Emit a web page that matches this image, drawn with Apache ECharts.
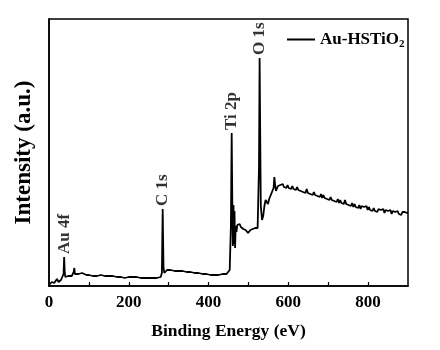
<!DOCTYPE html>
<html>
<head>
<meta charset="utf-8">
<script src="https://cdn.jsdelivr.net/npm/echarts@6/dist/echarts.min.js"></script>
<style>
  html, body { margin: 0; padding: 0; background: #fff; }
  #chart { width: 440px; height: 350px; }
</style>
</head>
<body>
<div id="chart"></div>
<script>
// XPS survey spectrum of Au-HSTiO2
const seriesName = 'Au-HSTiO2';

// Binding energy (eV)
const bindingEnergy = [
  0, 3, 7, 10, 13, 16, 20, 22, 24, 27, 30, 33, 35, 36.5, 38, 39.5, 41, 44, 48, 53,
  57, 60, 62, 63.5, 65, 67, 70, 74, 78, 83, 88, 94, 100, 105, 110, 115, 120, 125,
  130, 135, 140, 145, 150, 155, 160, 165, 170, 175, 180, 185, 190, 195, 200, 205,
  210, 215, 220, 225, 230, 235, 240, 245, 250, 255, 260, 265, 270, 275, 280, 283,
  285, 287, 289, 292, 296, 300, 305, 310, 315, 320, 325, 330, 335, 340, 345, 350,
  355, 360, 365, 370, 375, 380, 385, 390, 395, 400, 405, 410, 415, 420, 425, 430,
  435, 440, 445, 450, 453, 456, 458, 459.5, 461, 462.5, 464, 465, 466.5, 468, 470,
  472, 475, 478, 481, 484, 487, 490, 493, 496, 499, 502, 505, 508, 511, 514, 517,
  520, 523, 525, 526.5, 528, 529.5, 531, 534, 537, 540, 543, 546, 549, 552, 556,
  560, 563, 565, 567, 569, 571, 574, 577, 580, 583, 586, 589, 592, 595, 598, 601,
  604, 607, 610, 613, 616, 619, 622, 625, 628, 631, 634, 637, 640, 643, 646, 649,
  652, 655, 658, 661, 664, 667, 670, 673, 676, 679, 682, 685, 688, 691, 694, 697,
  700, 703, 706, 709, 712, 715, 718, 721, 724, 727, 730, 733, 736, 739, 742, 745,
  748, 751, 754, 757, 760, 763, 766, 769, 772, 775, 778, 781, 784, 787, 790, 793,
  796, 799, 802, 805, 808, 811, 814, 817, 820, 823, 826, 829, 832, 835, 838, 841,
  844, 847, 850, 853, 856, 859, 862, 865, 868, 871, 874, 877, 880, 883, 886, 889,
  892, 895, 898, 900
];

// Intensity (a.u.)
const intensity = [
  1, 3, 4, 2, 3, 5, 7, 5, 4, 5, 6, 6, 8, 12, 29, 13, 9, 9, 10, 9,
  10, 12, 14, 18, 12, 11, 11, 12, 13, 13, 12, 11, 11, 11, 10, 11, 10, 10,
  11, 10, 10, 9, 10, 9, 10, 9, 9, 10, 9, 9, 8, 9, 9, 8,
  9, 8, 9, 8, 8, 9, 8, 8, 8, 9, 8, 8, 8, 9, 9, 13,
  77, 19, 13, 14, 16, 17, 16, 16, 15, 16, 15, 14, 15, 14, 14, 13,
  14, 13, 13, 12, 13, 12, 12, 13, 12, 12, 11, 12, 11, 13, 11, 11,
  12, 11, 12, 13, 16, 60, 153, 85, 40, 81, 42, 75, 38, 60, 54,
  61, 60, 62, 59, 58, 57, 58, 56, 55, 53, 55, 56, 55, 57, 56, 58,
  57, 58, 60, 120, 228, 150, 80, 66, 70, 80, 86, 84, 82, 87, 89,
  95, 98, 109, 101, 95, 93, 100, 99, 101, 99, 102, 99, 100, 98, 101, 98,
  99, 97, 100, 97, 98, 96, 99, 96, 98, 95, 97, 94, 96, 93, 97, 93,
  95, 92, 94, 91, 94, 91, 93, 90, 92, 89, 92, 88, 91, 88, 90, 87,
  89, 86, 89, 86, 88, 85, 87, 84, 87, 83, 86, 83, 85, 82, 86, 82,
  84, 81, 83, 80, 83, 79, 82, 79, 81, 78, 81, 77, 80, 78, 79, 77,
  80, 76, 79, 76, 78, 75, 78, 75, 77, 74, 77, 75, 76, 74, 77, 73,
  76, 74, 75, 73, 76, 72, 75, 73, 74, 72, 75, 72, 74, 71, 74, 72,
  74, 72, 73, 73
];

// Peak assignments and their binding energies (eV)
const peakNames = ['Au 4f', 'C 1s', 'Ti 2p', 'O 1s'];
const peakEnergy = [38, 285, 458, 528];

// X axis tick labels
const xTickLabels = ['0', '200', '400', '600', '800'];

const serif = '"Liberation Serif", "Times New Roman", serif';

const spectrum = bindingEnergy.map((e, i) => [e, intensity[i]]);
const peakMarks = peakNames.map((name, i) => {
  const idx = bindingEnergy.indexOf(peakEnergy[i]);
  return { name: name, value: [peakEnergy[i], intensity[idx]] };
});

const chart = echarts.init(document.getElementById('chart'), null, { renderer: 'canvas' });

chart.setOption({
  backgroundColor: '#fff',
  animation: false,
  grid: {
    left: 49, right: 32, top: 19, bottom: 64,
    show: true, borderColor: '#000', borderWidth: 1.5, backgroundColor: 'transparent'
  },
  legend: {
    left: 282, top: 26,
    icon: 'rect', itemWidth: 28, itemHeight: 2, itemGap: 6,
    data: [seriesName],
    formatter: () => '{m|Au-HSTiO}{s|2}',
    textStyle: {
      color: '#000',
      rich: {
        m: { fontFamily: serif, fontWeight: 'bold', fontSize: 17, color: '#000' },
        s: { fontFamily: serif, fontWeight: 'bold', fontSize: 11, color: '#000', padding: [9, 0, 0, 0] }
      }
    }
  },
  xAxis: {
    type: 'value', min: 0, max: 900, interval: 100,
    name: 'Binding Energy (eV)', nameLocation: 'middle', nameGap: 36,
    nameTextStyle: { fontFamily: serif, fontWeight: 'bold', fontSize: 17.5, color: '#000' },
    axisLine: { show: true, lineStyle: { color: '#000', width: 1.5 } },
    axisTick: { show: true, inside: true, length: 4, lineStyle: { color: '#000', width: 1.2 } },
    axisLabel: {
      margin: 8, color: '#000', fontFamily: serif, fontWeight: 'bold', fontSize: 17,
      showMaxLabel: false,
      formatter: v => xTickLabels.indexOf(String(v)) >= 0 ? String(v) : ''
    },
    splitLine: { show: false }
  },
  yAxis: {
    type: 'value', min: 0, max: 267,
    name: 'Intensity (a.u.)', nameLocation: 'middle', nameGap: 13,
    nameTextStyle: { fontFamily: serif, fontWeight: 'bold', fontSize: 23, color: '#000' },
    axisLine: { show: true, lineStyle: { color: '#000', width: 1.5 } },
    axisTick: { show: false },
    axisLabel: { show: false },
    splitLine: { show: false }
  },
  series: [
    {
      name: seriesName,
      type: 'line',
      data: spectrum,
      showSymbol: false,
      symbol: 'none',
      lineStyle: { color: '#000', width: 1.8 },
      itemStyle: { color: '#000' }
    },
    {
      name: 'peaks',
      type: 'scatter',
      data: peakMarks,
      symbolSize: 0,
      silent: true,
      label: {
        show: true,
        position: 'top',
        distance: 3,
        rotate: 90,
        align: 'left',
        verticalAlign: 'middle',
        formatter: p => p.name,
        fontFamily: serif, fontWeight: 'bold', fontSize: 17, color: '#000'
      }
    }
  ]
});
</script>
</body>
</html>
